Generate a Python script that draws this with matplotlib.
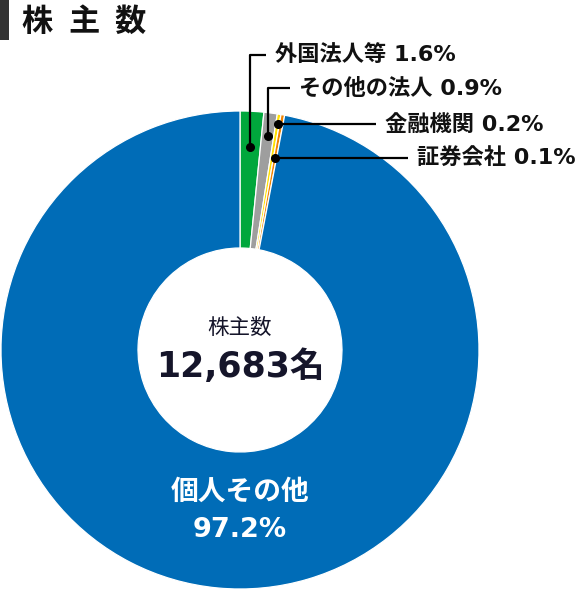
import numpy as np
import matplotlib
matplotlib.use("Agg")
import matplotlib.pyplot as plt

plt.rcParams['font.family'] = ['Noto Sans CJK JP', 'DejaVu Sans']
# wider digits first, CJK glyphs fall back to Noto
MIXED = ['DejaVu Sans', 'Noto Sans CJK JP']

# data
categories = ["外国法人等", "その他の法人", "金融機関", "証券会社", "個人その他"]
shares = [1.6, 0.9, 0.2, 0.1, 97.2]
colors = ["#00a73c", "#9e9e9e", "#ffe100", "#f08300", "#006cb7"]
total_label = "12,683名"
title = "株主数"

W, H = 580, 590


def py(y):
    # pixel row (from top) -> data y
    return H - y


fig = plt.figure(figsize=(W / 100, H / 100), dpi=100)
ax = fig.add_axes([0, 0, 1, 1])

cx, cy, R, r_in = 240, py(350), 239, 102

# tiny slices get a minimum visible size
display = [max(s, 0.25) for s in shares]
wedges, _ = ax.pie(display, colors=colors, startangle=90, counterclock=False,
                   radius=R, center=(cx, cy),
                   wedgeprops=dict(width=R - r_in, edgecolor="white", linewidth=0.9))

ax.set_xlim(0, W)
ax.set_ylim(0, H)
ax.set_aspect("equal")
ax.axis("off")

# title with bar
ax.add_patch(plt.Rectangle((0, py(40)), 9, 40, color="#333333", lw=0))
for i, ch in enumerate(title):
    ax.text(37 + i * 46.5, py(22), ch, fontsize=22.5, fontweight="bold",
            ha="center", va="center", color="#111111")

# centre text
ax.text(cx, py(328), title, fontsize=15.5, ha="center", va="center", color="#15152a")
ax.text(cx, py(367), total_label, fontsize=25, fontweight="bold", family=MIXED,
        ha="center", va="center", color="#15152a")

# big slice label
ax.text(cx, py(492), categories[4], fontsize=20, fontweight="bold",
        ha="center", va="center", color="white")
ax.text(cx, py(530), f"{shares[4]}%", fontsize=19.5, fontweight="bold",
        family=MIXED, ha="center", va="center", color="white")


def mid_point(w, rad):
    ang = np.deg2rad((w.theta1 + w.theta2) / 2)
    return cx + rad * np.cos(ang), cy + rad * np.sin(ang)


# leader labels: (dot radius, text y, text x, elbow)
layout = [(203, 55, 275, True), (216, 88, 299, True),
          (229, 125, 385, False), (195, 158, 417, False)]
for k, (rad, ty, tx, elbow) in enumerate(layout):
    x0, y0 = mid_point(wedges[k], rad)
    if elbow:
        xs = [x0, x0, tx - 9]
        ys = [y0, py(ty), py(ty)]
    else:
        xs = [x0, tx - 9]
        ys = [y0, y0]
    ax.plot(xs, ys, color="black", lw=1.6, solid_capstyle="butt")
    ax.plot([x0], [y0], "o", color="black", ms=5.5)
    ax.text(tx, ys[-1], f"{categories[k]} {shares[k]}%", fontsize=16,
            fontweight="bold", family=MIXED, ha="left", va="center",
            color="#111111")

fig.savefig("out.png", dpi=100)
